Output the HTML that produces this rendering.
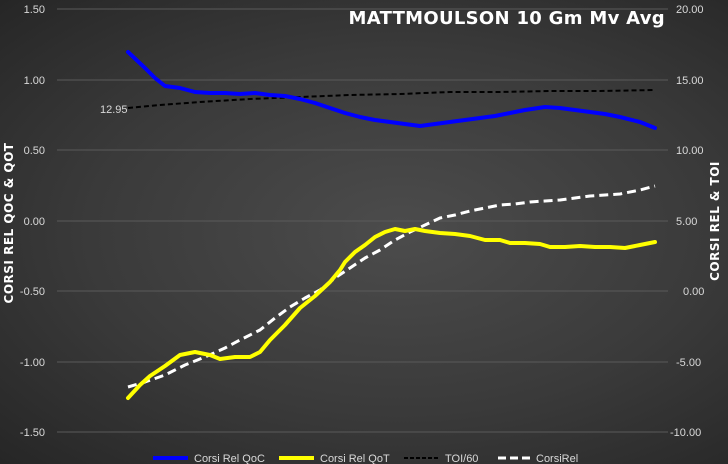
<!DOCTYPE html>
<html><head><meta charset="utf-8"><style>
html,body{margin:0;padding:0;width:728px;height:464px;overflow:hidden;}
body{background:radial-gradient(ellipse at 55% 50%,#4c4c4c 0%,#3a3a3a 55%,#262626 100%);font-family:"Liberation Sans",sans-serif;}
</style></head><body>
<svg width="728" height="464" style="position:absolute;left:0;top:0" font-family="Liberation Sans, sans-serif">
<g stroke="#5a5a5a" stroke-width="1">
<line x1="57" x2="668" y1="9" y2="9"/><line x1="57" x2="668" y1="80" y2="80"/><line x1="57" x2="668" y1="150" y2="150"/><line x1="57" x2="668" y1="221" y2="221"/><line x1="57" x2="668" y1="291" y2="291"/><line x1="57" x2="668" y1="362" y2="362"/><line x1="57" x2="668" y1="432" y2="432"/>
</g>
<g fill="#d9d9d9" font-size="11" text-anchor="end">
<text x="45" y="13">1.50</text><text x="45" y="84">1.00</text><text x="45" y="154">0.50</text><text x="45" y="225">0.00</text><text x="45" y="295">-0.50</text><text x="45" y="366">-1.00</text><text x="45" y="436">-1.50</text>
</g>
<g fill="#d9d9d9" font-size="11" text-anchor="start">
<text x="676" y="13">20.00</text><text x="676" y="84">15.00</text><text x="676" y="154">10.00</text><text x="676" y="225">5.00</text><text x="683" y="295">0.00</text><text x="676" y="366">-5.00</text><text x="670" y="436">-10.00</text>
</g>
<text x="100" y="113" fill="#d9d9d9" font-size="11">12.95</text>
<text transform="translate(13,223) rotate(-90)" fill="#fff" font-size="12" font-weight="bold" text-anchor="middle" font-family="DejaVu Sans, sans-serif" letter-spacing="0.5">CORSI REL QOC &amp; QOT</text>
<text transform="translate(719,221) rotate(-90)" fill="#fff" font-size="12" font-weight="bold" text-anchor="middle" font-family="DejaVu Sans, sans-serif" letter-spacing="0.5">CORSI REL &amp; TOI</text>
<text x="665" y="24" fill="#fff" font-size="18" font-weight="bold" text-anchor="end" font-family="DejaVu Sans, sans-serif" letter-spacing="0.3">MATTMOULSON 10 Gm Mv Avg</text>
<polyline fill="none" stroke="#000" stroke-width="2" stroke-dasharray="5,3" points="128,108 160,105 200,102 250,99 300,97 350,95 400,94 450,92 500,92 550,91 600,91 655,90"/>
<polyline fill="none" stroke="#fff" stroke-width="3" stroke-dasharray="9,5" stroke-linejoin="round" points="128,387 145,382 165,375 185,365 205,357 225,348 240,340 260,330 275,318 290,307 305,298 320,290 335,278 350,268 365,258 380,250 395,240 410,232 425,225 440,218 455,215 470,211 485,208 500,205 515,204 530,202 545,201 560,200 575,198 590,196 605,195 620,194 640,190 655,186"/>
<polyline fill="none" stroke="#0000ff" stroke-width="4" stroke-linejoin="round" stroke-linecap="round" points="128,52 145,68 155,78 165,86 180,88 195,92 210,93 225,93 240,94 255,93 270,95 285,96 300,99 315,103 330,108 345,113 360,117 375,120 390,122 405,124 420,126 435,124 450,122 465,120 480,118 495,116 510,113 525,110 545,107 560,108 575,110 590,112 605,114 620,117 640,122 655,128"/>
<polyline fill="none" stroke="#ffff00" stroke-width="4" stroke-linejoin="round" stroke-linecap="round" points="128,398 140,385 150,376 165,366 180,355 195,352 210,355 220,359 235,357 250,357 260,352 270,340 285,325 300,308 315,296 330,282 340,270 345,262 355,252 365,245 375,237 385,232 395,229 405,231 415,229 425,231 440,233 455,234 470,236 485,240 500,240 510,243 525,243 540,244 550,247 565,247 580,246 595,247 610,247 625,248 640,245 655,242"/>
<g font-size="11" fill="#d9d9d9">
<line x1="153" x2="188" y1="458" y2="458" stroke="#0000ff" stroke-width="4"/><text x="194" y="462">Corsi Rel QoC</text>
<line x1="279" x2="314" y1="458" y2="458" stroke="#ffff00" stroke-width="4"/><text x="320" y="462">Corsi Rel QoT</text>
<line x1="404" x2="438" y1="458" y2="458" stroke="#000" stroke-width="2" stroke-dasharray="4,2"/><text x="445" y="462">TOI/60</text>
<line x1="498" x2="530" y1="458" y2="458" stroke="#fff" stroke-width="3" stroke-dasharray="8,4"/><text x="536" y="462">CorsiRel</text>
</g>
</svg>
</body></html>
